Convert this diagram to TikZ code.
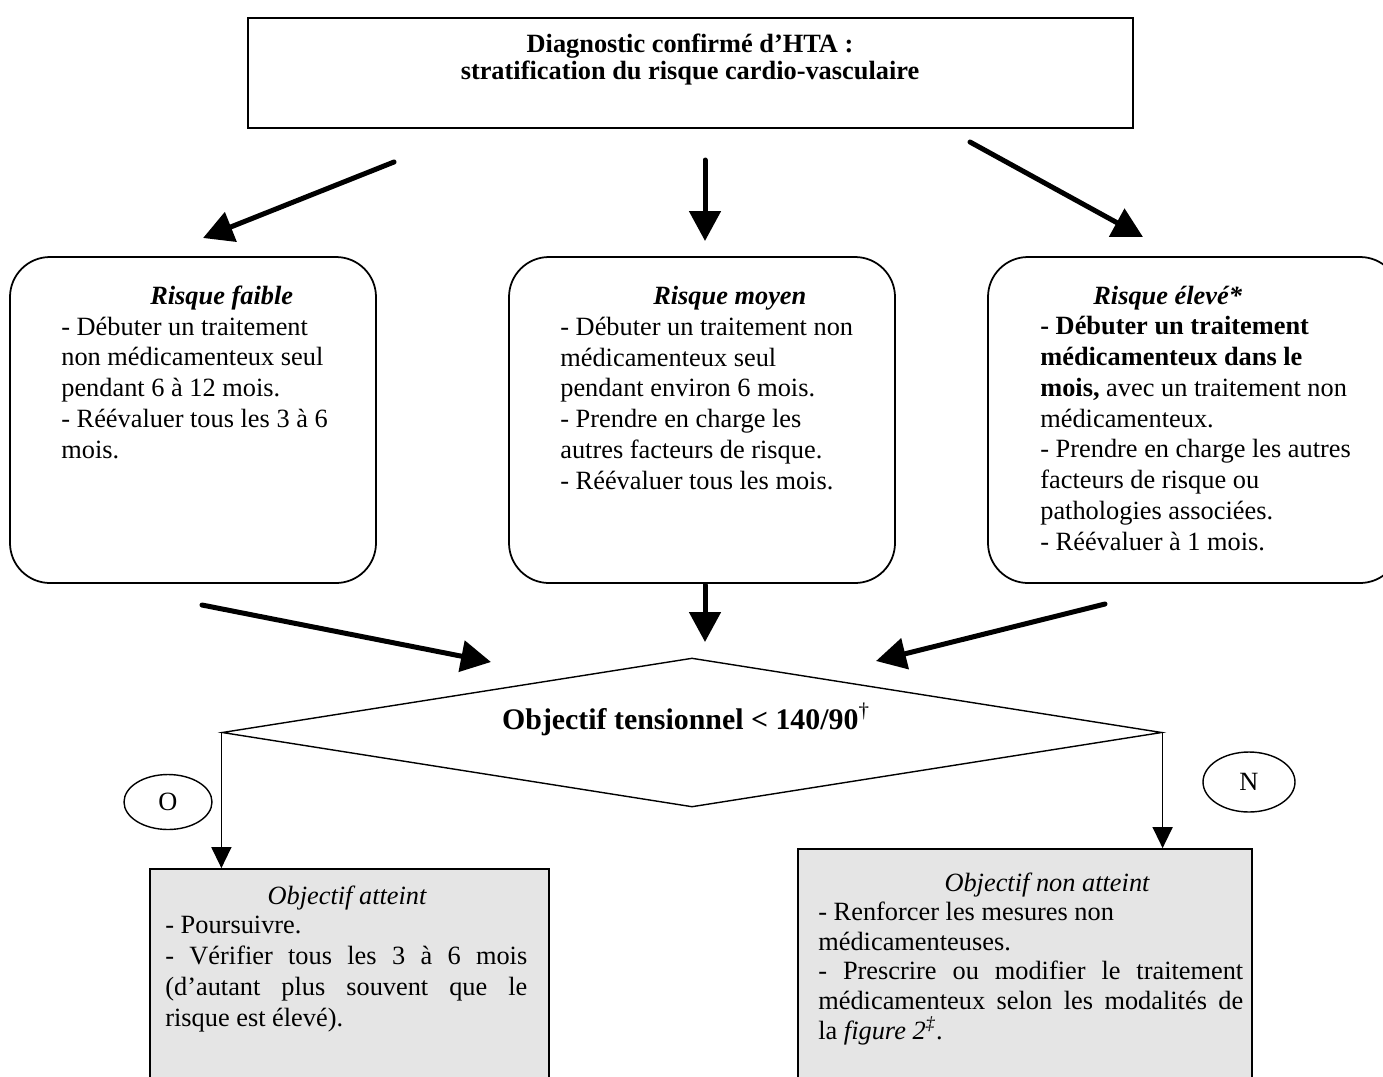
\documentclass[tikz,border=0pt]{standalone}
\usepackage{fontspec}
\setmainfont{Liberation Serif}
\usetikzlibrary{arrows.meta,shapes.geometric,fit}
\tikzset{
  rbox/.style={draw, rounded corners=0.8cm, line width=1pt, inner sep=0pt},
  sbox/.style={draw, line width=1pt, inner sep=0pt},
  gbox/.style={draw, fill=black!10, line width=1pt, inner sep=0pt},
  body/.style={font=\fontsize{15}{17.5}\selectfont, align=left, inner sep=0pt, anchor=base west},
  title/.style={font=\fontsize{15}{17.5}\selectfont\itshape, inner sep=0pt, anchor=base},
  bigarrow/.style={line width=0.1cm, line cap=round, -{Triangle[length=0.6cm,width=0.62cm]}},
  thinarrow/.style={line width=0.8pt, -{Triangle[length=0.42cm,width=0.4cm]}},
  oval/.style={draw, ellipse, line width=0.8pt, inner sep=0pt, font=\fontsize{15}{17.5}\selectfont},
}
\begin{document}
\begin{tikzpicture}[x=0.02cm,y=-0.02cm]
\useasboundingbox (0,0) rectangle (1383,1076);
\clip (0,0) rectangle (1383,1076);

% top box
\node[sbox, fit={(248,18) (1133,128)}] (top) {};
% (base anchor = baseline of last line)
\node[font=\fontsize{15}{13.8}\bfseries, align=center, inner sep=0pt, anchor=base] (toptxt) at (690,79)
  {Diagnostic confirmé d’HTA :\\stratification du risque cardio-vasculaire};

% three risk boxes
\node[rbox, fit={(10,257) (376,583)}] (low) {};
\node[rbox, fit={(509,257) (895,583)}] (mid) {};
\node[rbox, fit={(988,257) (1400,583)}] (high) {};

\node[body] (lowtxt) at (61,458) {\hspace*{1.78cm}\textbf{\textit{Risque faible}}\\
- Débuter un traitement\\
non médicamenteux seul\\
pendant 6 à 12 mois.\\
- Réévaluer tous les 3 à 6\\
mois.};

\node[body] (midtxt) at (560,489) {\hspace*{1.86cm}\textbf{\textit{Risque moyen}}\\
- Débuter un traitement non\\
médicamenteux seul\\
pendant environ 6 mois.\\
- Prendre en charge les\\
autres facteurs de risque.\\
- Réévaluer tous les mois.};

\node[body] (hightxt) at (1040,550) {\hspace*{1.06cm}\textbf{\textit{Risque élevé*}}\\
\textbf{- Débuter un traitement}\\
\textbf{médicamenteux dans le}\\
\textbf{mois,} avec un traitement non\\
médicamenteux.\\
- Prendre en charge les autres\\
facteurs de risque ou\\
pathologies associées.\\
- Réévaluer à 1 mois.};

% diamond
\node[draw, diamond, line width=0.8pt, minimum width=18.8cm, minimum height=2.98cm, inner sep=0pt] (dia) at (692,732.5) {};
\node[font=\fontsize{17}{20}\bfseries, inner sep=0pt, anchor=base] (diatxt) at (686,729)
  {Objectif tensionnel < 140/90\textsuperscript{\normalfont †}};

% thick arrows
\coordinate (t1) at (394,162); \coordinate (h1) at (203,238);
\coordinate (t2) at (705,160); \coordinate (h2) at (705,241);
\coordinate (t3) at (970,142); \coordinate (h3) at (1143,237);
\coordinate (t4) at (202,605); \coordinate (h4) at (491,662);
\coordinate (t5) at (705,585); \coordinate (h5) at (705,642);
\coordinate (t6) at (1105,604); \coordinate (h6) at (876,661);
\draw[bigarrow] (t1) -- (h1);
\draw[bigarrow] (t2) -- (h2);
\draw[bigarrow] (t3) -- (h3);
\draw[bigarrow] (t4) -- (h4);
\draw[bigarrow] (t5) -- (h5);
\draw[bigarrow] (t6) -- (h6);

% result boxes
\node[gbox, fit={(150,869) (549,1100)}] (ok) {};
\node[gbox, fit={(798,849) (1252,1100)}] (nok) {};

\draw[thinarrow] (dia.west) -- (dia.west |- ok.north);
\draw[thinarrow] (dia.east) -- (dia.east |- nok.north);

% O / N labels
\node[oval, minimum width=1.76cm, minimum height=1.1cm] (O) at (168,802) {O};
\node[oval, minimum width=1.84cm, minimum height=1.2cm] (N) at (1249,782) {N};

% result texts
\node[title] (oktitle) at (347,904) {Objectif atteint};
\node[body] (oktxt) at (165,1026) {- Poursuivre.\\
\makebox[7.24cm][s]{- Vérifier tous les 3 à 6 mois}\\
\makebox[7.24cm][s]{(d’autant plus souvent que le}\\
risque est élevé).};

\node[title] (noktitle) at (1047,891) {Objectif non atteint};
\node[body, font=\fontsize{15}{16.8}\selectfont] (noktxt) at (818,1039) {- Renforcer les mesures non\\
médicamenteuses.\\
\makebox[8.5cm][s]{- Prescrire ou modifier le traitement}\\
\makebox[8.5cm][s]{médicamenteux selon les modalités de}\\
la \textit{figure 2}\textsuperscript{\textit{‡}}.};
\end{tikzpicture}
\end{document}
